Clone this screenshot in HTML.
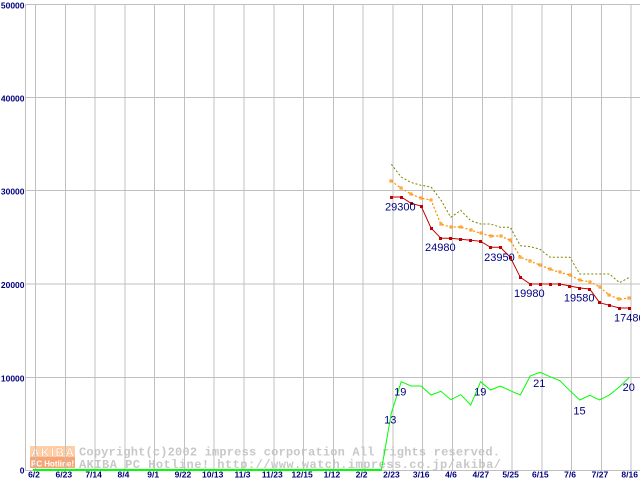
<!DOCTYPE html>
<html><head><meta charset="utf-8"><style>
html,body{margin:0;padding:0;background:#fff;}
svg{display:block;}
</style></head><body>
<svg width="640" height="480" viewBox="0 0 640 480" xmlns="http://www.w3.org/2000/svg">
<rect width="640" height="480" fill="#fff"/>
<!-- logo -->
<rect x="30" y="446" width="45" height="11" fill="#ffcfa8"/>
<rect x="30" y="457" width="45" height="11" fill="#f7a677"/>
<text x="31" y="456.5" font-family="Liberation Sans, sans-serif" font-weight="bold" font-size="12" fill="#fff" stroke="#f8b080" stroke-width="0.4" textLength="43" lengthAdjust="spacing">AKIBA</text>
<text x="31" y="466.5" font-family="Liberation Sans, sans-serif" font-weight="bold" font-size="8.5" fill="#fff" textLength="43" lengthAdjust="spacingAndGlyphs">PC Hotline!</text>
<!-- watermark -->
<text x="79" y="455.5" font-family="Liberation Mono, monospace" font-weight="bold" font-size="12" fill="#c8c8c8" textLength="421" lengthAdjust="spacing">Copyright(c)2002 impress corporation All rights reserved.</text>
<text x="79" y="468" font-family="Liberation Mono, monospace" font-weight="bold" font-size="12" fill="#c8c8c8" textLength="422" lengthAdjust="spacing">AKIBA PC Hotline!  http://www.watch.impress.co.jp/akiba/</text>
<!-- grid -->
<g stroke="#c0c0c0" stroke-width="1" shape-rendering="crispEdges">
<line x1="25" y1="4.5" x2="640" y2="4.5"/>
<line x1="25" y1="97.5" x2="640" y2="97.5"/>
<line x1="25" y1="190.5" x2="640" y2="190.5"/>
<line x1="25" y1="284" x2="640" y2="284"/>
<line x1="25" y1="377.5" x2="640" y2="377.5"/>
<line x1="25" y1="470.5" x2="640" y2="470.5"/>
<line x1="25.5" y1="4" x2="25.5" y2="471"/>
<line x1="35.5" y1="4" x2="35.5" y2="471"/>
<line x1="65.3" y1="4" x2="65.3" y2="471"/>
<line x1="95.1" y1="4" x2="95.1" y2="471"/>
<line x1="124.9" y1="4" x2="124.9" y2="471"/>
<line x1="154.7" y1="4" x2="154.7" y2="471"/>
<line x1="184.4" y1="4" x2="184.4" y2="471"/>
<line x1="214.2" y1="4" x2="214.2" y2="471"/>
<line x1="244" y1="4" x2="244" y2="471"/>
<line x1="273.8" y1="4" x2="273.8" y2="471"/>
<line x1="303.6" y1="4" x2="303.6" y2="471"/>
<line x1="333.4" y1="4" x2="333.4" y2="471"/>
<line x1="363.1" y1="4" x2="363.1" y2="471"/>
<line x1="392.9" y1="4" x2="392.9" y2="471"/>
<line x1="422.7" y1="4" x2="422.7" y2="471"/>
<line x1="452.5" y1="4" x2="452.5" y2="471"/>
<line x1="482.3" y1="4" x2="482.3" y2="471"/>
<line x1="512.1" y1="4" x2="512.1" y2="471"/>
<line x1="541.8" y1="4" x2="541.8" y2="471"/>
<line x1="571.6" y1="4" x2="571.6" y2="471"/>
<line x1="601.4" y1="4" x2="601.4" y2="471"/>
<line x1="631.2" y1="4" x2="631.2" y2="471"/>
</g>
<!-- y labels -->
<g font-family="Liberation Sans, sans-serif" font-weight="bold" font-size="8.5" fill="#000080" text-anchor="end">
<text x="24.5" y="8.5">50000</text>
<text x="24.5" y="101.5">40000</text>
<text x="24.5" y="194.5">30000</text>
<text x="24.5" y="288">20000</text>
<text x="24.5" y="381.5">10000</text>
<text x="24.5" y="473.5">0</text>
</g>
<!-- x labels -->
<g font-family="Liberation Sans, sans-serif" font-weight="bold" font-size="8.5" fill="#000080" text-anchor="middle">
<text x="34" y="477.5">6/2</text>
<text x="63.8" y="477.5">6/23</text>
<text x="93.6" y="477.5">7/14</text>
<text x="123.4" y="477.5">8/4</text>
<text x="153.2" y="477.5">9/1</text>
<text x="182.9" y="477.5">9/22</text>
<text x="212.7" y="477.5">10/13</text>
<text x="242.5" y="477.5">11/3</text>
<text x="272.3" y="477.5">11/23</text>
<text x="302.1" y="477.5">12/15</text>
<text x="331.9" y="477.5">1/12</text>
<text x="361.6" y="477.5">2/2</text>
<text x="391.4" y="477.5">2/23</text>
<text x="421.2" y="477.5">3/16</text>
<text x="451" y="477.5">4/6</text>
<text x="480.8" y="477.5">4/27</text>
<text x="510.6" y="477.5">5/25</text>
<text x="540.3" y="477.5">6/15</text>
<text x="570.1" y="477.5">7/6</text>
<text x="599.9" y="477.5">7/27</text>
<text x="629.7" y="477.5">8/16</text>
</g>
<!-- olive -->
<polyline fill="none" stroke="#808000" stroke-width="1" stroke-dasharray="2,2" points="391.3,164.3 401.2,177 411.1,182.5 421.1,185.3 431,187 440.9,200 450.8,217.3 460.7,210.3 470.7,220.7 480.6,224 490.5,224 500.4,227.3 510.3,227.3 520.3,245.7 530.2,246.7 540.1,249.3 550,257.3 559.9,257.3 569.9,257.3 579.8,274 589.7,274 599.6,274 609.5,274 619.5,282.7 629.4,277.3"/>
<!-- orange -->
<polyline fill="none" stroke="#ff8c00" stroke-width="1.2" stroke-dasharray="2,2" points="391.3,181 401.2,188.3 411.1,194 421.1,198.3 431,200 440.9,224.3 450.8,227 460.7,227 470.7,230 480.6,233.3 490.5,236 500.4,236 510.3,240.3 520.3,257 530.2,261.3 540.1,265 550,269.3 559.9,272.3 569.9,275 579.8,280.3 589.7,281.7 599.6,287 609.5,295.3 619.5,299.3 629.4,298"/>
<g fill="#fff" stroke="#ff8c00" stroke-width="1" shape-rendering="crispEdges">
<rect x="390" y="180" width="2" height="2"/><rect x="400" y="187" width="2" height="2"/><rect x="410" y="193" width="2" height="2"/><rect x="420" y="197" width="2" height="2"/><rect x="430" y="199" width="2" height="2"/><rect x="440" y="223" width="2" height="2"/><rect x="450" y="226" width="2" height="2"/><rect x="460" y="226" width="2" height="2"/><rect x="470" y="229" width="2" height="2"/><rect x="480" y="232" width="2" height="2"/><rect x="490" y="235" width="2" height="2"/><rect x="500" y="235" width="2" height="2"/><rect x="509" y="239" width="2" height="2"/><rect x="519" y="256" width="2" height="2"/><rect x="529" y="260" width="2" height="2"/><rect x="539" y="264" width="2" height="2"/><rect x="549" y="268" width="2" height="2"/><rect x="559" y="271" width="2" height="2"/><rect x="569" y="274" width="2" height="2"/><rect x="579" y="279" width="2" height="2"/><rect x="589" y="281" width="2" height="2"/><rect x="599" y="286" width="2" height="2"/><rect x="608" y="294" width="2" height="2"/><rect x="618" y="298" width="2" height="2"/><rect x="628" y="297" width="2" height="2"/>
</g>
<!-- red -->
<polyline fill="none" stroke="#c00000" stroke-width="1" points="391.3,197 401.2,197 411.1,203.3 421.1,206 431,228 440.9,238.3 450.8,238.3 460.7,239.3 470.7,240.3 480.6,241.3 490.5,247.3 500.4,247.3 510.3,257.3 520.3,277.3 530.2,284 540.1,284 550,284 559.9,284 569.9,286 579.8,288 589.7,289 599.6,302.7 609.5,305.3 619.5,308 629.4,308"/>
<g fill="#c00000" shape-rendering="crispEdges">
<rect x="390" y="196" width="3" height="3"/><rect x="400" y="196" width="3" height="3"/><rect x="410" y="202" width="3" height="3"/><rect x="420" y="205" width="3" height="3"/><rect x="430" y="227" width="3" height="3"/><rect x="439" y="237" width="3" height="3"/><rect x="449" y="237" width="3" height="3"/><rect x="459" y="238" width="3" height="3"/><rect x="469" y="239" width="3" height="3"/><rect x="479" y="240" width="3" height="3"/><rect x="489" y="246" width="3" height="3"/><rect x="499" y="246" width="3" height="3"/><rect x="509" y="256" width="3" height="3"/><rect x="519" y="276" width="3" height="3"/><rect x="529" y="283" width="3" height="3"/><rect x="539" y="283" width="3" height="3"/><rect x="549" y="283" width="3" height="3"/><rect x="558" y="283" width="3" height="3"/><rect x="568" y="285" width="3" height="3"/><rect x="578" y="287" width="3" height="3"/><rect x="588" y="288" width="3" height="3"/><rect x="598" y="301" width="3" height="3"/><rect x="608" y="304" width="3" height="3"/><rect x="618" y="307" width="3" height="3"/><rect x="628" y="307" width="3" height="3"/>
</g>
<!-- green -->
<line x1="33" y1="470.2" x2="381.4" y2="470.2" stroke="#00ff00" stroke-width="2" shape-rendering="crispEdges"/>
<polyline fill="none" stroke="#00ff00" stroke-width="1" points="381.4,470 391.3,413.3 401.2,381.7 411.1,386 421.1,386 431,395 440.9,391.3 450.8,399.7 460.7,394.7 470.7,405 480.6,381.7 490.5,390 500.4,386 510.3,390.7 520.3,395 530.2,376 540.1,372.3 550,376.7 559.9,380.7 569.9,390.7 579.8,400 589.7,395.3 599.6,400 609.5,395 619.5,386.7 629.4,377.3"/>
<!-- value labels -->
<g font-family="Liberation Sans, sans-serif" font-size="11" fill="#000080" text-anchor="middle">
<text x="400.3" y="210.5">29300</text>
<text x="440.3" y="251">24980</text>
<text x="499.4" y="261">23950</text>
<text x="529.3" y="297">19980</text>
<text x="579.2" y="301.3">19580</text>
<text x="629.3" y="321.3">17480</text>
<text x="390.3" y="423.5">13</text>
<text x="400.3" y="395.3">19</text>
<text x="480.3" y="395.3">19</text>
<text x="539.3" y="387">21</text>
<text x="579.5" y="414.3">15</text>
<text x="628.8" y="391">20</text>
</g>
</svg>
</body></html>
